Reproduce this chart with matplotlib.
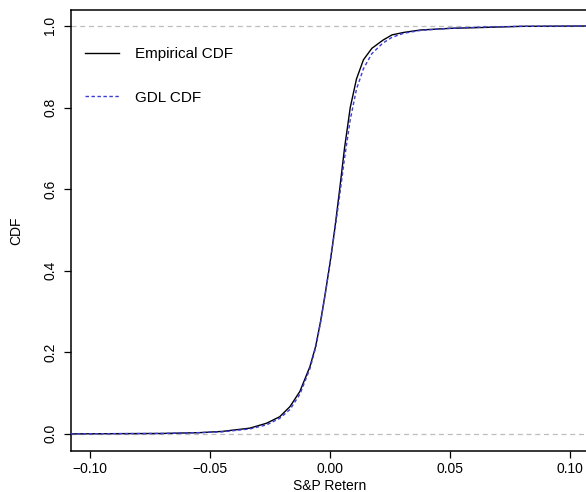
import matplotlib
matplotlib.use("Agg")
import matplotlib.pyplot as plt

# Data
emp_x = [-0.108, -0.090, -0.070, -0.0544, -0.045, -0.0335, -0.0265, -0.0210, -0.0167,
         -0.0126, -0.0084, -0.0060, -0.0040, -0.0020, 0.0000, 0.0020, 0.0040, 0.0060,
         0.0084, 0.0110, 0.0139, 0.0174, 0.0220, 0.0258, 0.0307, 0.0377, 0.050, 0.0628,
         0.080, 0.115]
emp_y = [0.000, 0.0005, 0.001, 0.003, 0.006, 0.014, 0.026, 0.042, 0.067,
         0.104, 0.165, 0.215, 0.275, 0.345, 0.420, 0.505, 0.600, 0.700,
         0.800, 0.870, 0.917, 0.945, 0.965, 0.978, 0.984, 0.990, 0.994, 0.996,
         0.999, 1.000]

gdl_x = emp_x
gdl_y = [0.000, 0.0005, 0.001, 0.003, 0.005, 0.012, 0.022, 0.038, 0.060,
         0.097, 0.160, 0.212, 0.272, 0.343, 0.420, 0.500, 0.585, 0.675,
         0.770, 0.845, 0.895, 0.932, 0.958, 0.972, 0.982, 0.989, 0.994, 0.997,
         0.999, 1.000]

x_ticks = [-0.10, -0.05, 0.00, 0.05, 0.10]
x_tick_labels = ["\u22120.10", "\u22120.05", "0.00", "0.05", "0.10"]
y_ticks = [0.0, 0.2, 0.4, 0.6, 0.8, 1.0]
y_tick_labels = ["0.0", "0.2", "0.4", "0.6", "0.8", "1.0"]
ref_lines = [0.0, 1.0]

plt.rcParams['font.family'] = ['Liberation Sans', 'DejaVu Sans']

W, H = 586, 492
fig = plt.figure(figsize=(W / 100, H / 100), dpi=100)
ax = fig.add_axes([71 / W, 1 - 451 / H, 517 / W, 441 / H])

for v in ref_lines:
    ax.axhline(v, color='#bdbdbd', lw=0.9, ls=(0, (4, 3)), zorder=1)

ax.plot(emp_x, emp_y, color='black', lw=1.0, label='Empirical CDF', zorder=3)
ax.plot(gdl_x, gdl_y, color='#3a3ae0', lw=1.0, ls=(0, (2.5, 1.8)), label='GDL CDF', zorder=4)

ax.set_xlim(-0.108, 0.1075)
ax.set_ylim(-0.042, 1.039)

ax.set_xticks(x_ticks)
ax.set_xticklabels(x_tick_labels)
ax.set_yticks(y_ticks)
ax.set_yticklabels(y_tick_labels, rotation=90, va='center')
ax.tick_params(axis='both', direction='out', length=5, width=0.9, labelsize=10, colors='black')
ax.tick_params(axis='x', pad=3)
ax.tick_params(axis='y', pad=5)

for s in ['left', 'bottom', 'top']:
    ax.spines[s].set_linewidth(1.1)
ax.spines['right'].set_visible(False)

ax.set_xlabel('S&P Retern', fontsize=10, labelpad=2)
ax.set_ylabel('CDF', fontsize=10, labelpad=14)

leg = ax.legend(loc='upper left', bbox_to_anchor=(85 / W, 1 - 47 / H),
                bbox_transform=fig.transFigure, frameon=False, fontsize=11,
                handlelength=2.2, handletextpad=1.1, labelspacing=1.95,
                borderpad=0, borderaxespad=0)

fig.savefig('out.png', dpi=100)
